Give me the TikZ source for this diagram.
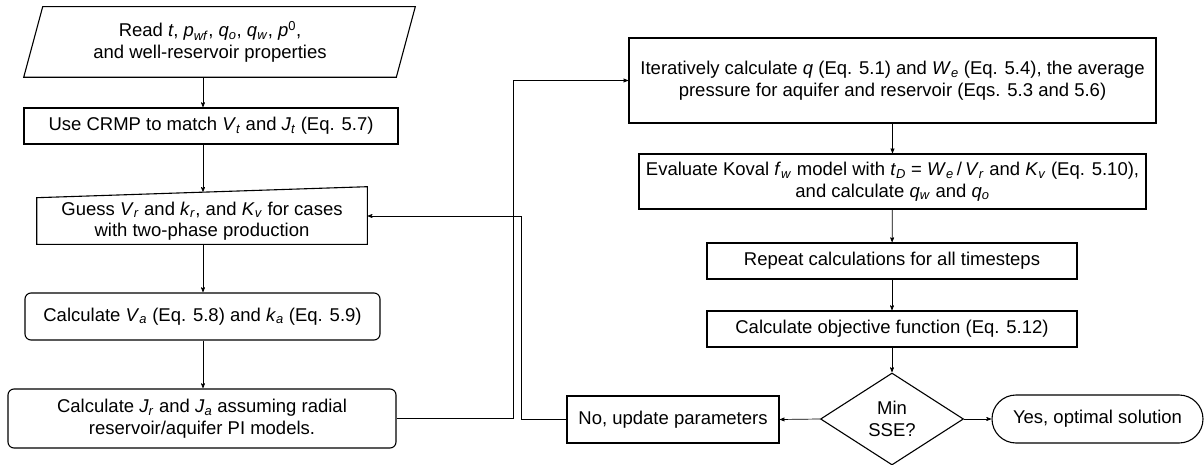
\documentclass[tikz,border=0pt]{standalone}
\usepackage{fontspec}
\setmainfont{Liberation Sans}
\usepackage{tikz}
\usetikzlibrary{
    arrows,
    shapes.geometric
}
\newcommand{\vsub}[2]{\textit{#1}\textsubscript{\textit{#2}}}

\begin{document}
\begin{tikzpicture}[x=1pt,y=-1pt,>=stealth',semithick,font=\fontsize{18.5}{21.5}\selectfont]
    \tikzstyle{box}=[draw, line width=1.1pt, align=center, inner sep=1pt]
    \tikzstyle{rbox}=[box, rounded corners=6pt]
    \tikzstyle{plain}=[align=center, inner sep=1pt]
    \tikzstyle{link}=[->, line width=0.7pt, shorten >=0.5pt]
    \useasboundingbox (0,0) rectangle (1204,465);
    \coordinate (lcol) at (203,0);
    \coordinate (busa) at (513,0);
    \coordinate (busb) at (521,0);

    % left column
	\node[plain, minimum width=372, minimum height=70] (read) at (210,42) {Read \textit{t}, \vsub{p}{wf}, \vsub{q}{o}, \vsub{q}{w}, \textit{p}\textsuperscript{0},\\ and well-reservoir properties};
	\draw[line width=1.1pt] (read.south west) -- ([xshift=19pt]read.north west) -- ([xshift=19pt]read.north east) -- (read.south east) -- cycle;
	\node[box, minimum width=374, minimum height=36] (crmp) at (211,126) {Use CRMP to match \vsub{V}{t} and \vsub{J}{t} (Eq. 5.7)};
	\node[plain, minimum width=330, minimum height=46] (guess) at (202,221) {Guess \vsub{V}{r} and \vsub{k}{r}, and \vsub{K}{v} for cases\\ with two-phase production};
	\draw[line width=1.1pt] (guess.north west) -- ([yshift=11pt]guess.north east) -- (guess.south east) -- (guess.south west) -- cycle;
	\node[rbox, minimum width=355, minimum height=47] (va) at (202.5,316.5) {Calculate \vsub{V}{a} (Eq. 5.8) and \vsub{k}{a} (Eq. 5.9)};
	\node[rbox, minimum width=388, minimum height=59] (jr) at (202,418.5) {Calculate \vsub{J}{r} and \vsub{J}{a} assuming radial\\ reservoir/aquifer PI models.};

    % right column
	\node[box, minimum width=527, minimum height=85] (iter) at (892.5,80.5) {Iteratively calculate \textit{q} (Eq. 5.1) and \vsub{W}{e} (Eq. 5.4), the average\\ pressure for aquifer and reservoir (Eqs. 5.3 and 5.6)};
	\node[box, minimum width=507, minimum height=55] (eval) at (892.5,181.5) {Evaluate Koval \vsub{f}{w} model with \vsub{t}{D} = \vsub{W}{e}\,/\,\vsub{V}{r} and \vsub{K}{v} (Eq. 5.10),\\ and calculate \vsub{q}{w} and \vsub{q}{o}};
	\node[box, minimum width=370, minimum height=36] (rep) at (892,261) {Repeat calculations for all timesteps};
	\node[box, minimum width=370, minimum height=36] (obj) at (892,329) {Calculate objective function (Eq. 5.12)};
	\node[draw, line width=1.1pt, diamond, align=center, inner sep=0pt, minimum width=143, minimum height=92] (sse) at (892,419) {Min\\ SSE?};
	\node[box, minimum width=212, minimum height=47] (upd) at (673,419.5) {No, update parameters};
	\node[box, rounded corners=24pt, minimum width=211, minimum height=48] (opt) at (1097.5,419) {Yes, optimal solution};

	\draw[link] (read.south -| lcol) -- (crmp.north -| lcol);
	\draw[link] (crmp.south -| lcol) -- ([yshift=5.5pt]guess.north -| lcol);
	\draw[link] (guess.south -| lcol) -- (va.north -| lcol);
	\draw[link] (va.south -| lcol) -- (jr.north -| lcol);
	\draw[link] (jr.east) -- (jr.east -| busa) |- (iter.west);
	\draw[link] (iter) -- (eval);
	\draw[link] (eval) -- (rep);
	\draw[link] (rep) -- (obj);
	\draw[link] (obj) -- (sse);
	\draw[link] (sse.west) -- (upd.east);
	\draw[link] (sse.east) -- (opt.west);
	\draw[link] (upd.west) -- (upd.west -| busb) |- ([yshift=5pt]guess.east);
\end{tikzpicture}
\end{document}
